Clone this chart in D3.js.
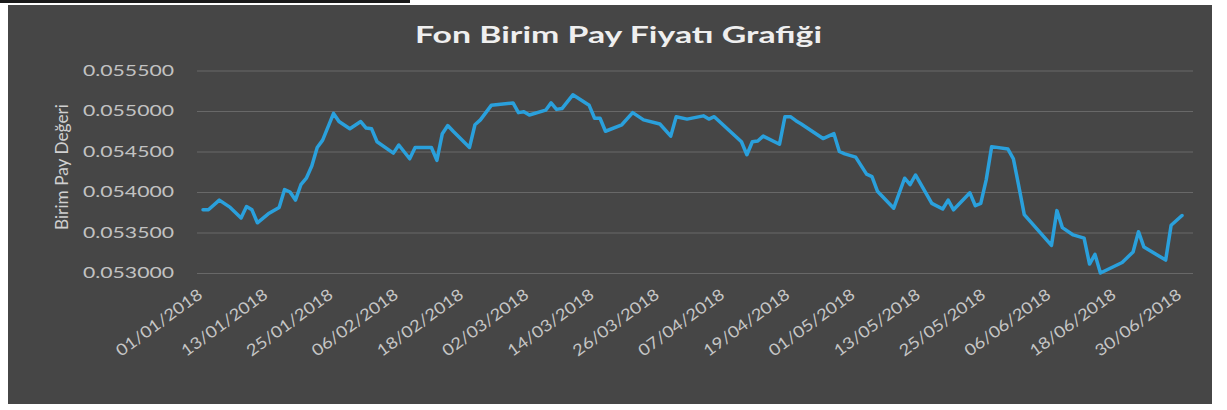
<!DOCTYPE html>
<html>
<head>
<meta charset="utf-8">
<script src="https://cdn.jsdelivr.net/npm/d3@7"></script>
<style>
  body { margin: 0; background: #fff; }
  svg { display: block; }
</style>
</head>
<body>
<div id="chart"></div>
<script>
// daily unit values
var dates = [
  "2018-01-01","2018-01-02","2018-01-04","2018-01-06","2018-01-08","2018-01-09","2018-01-10","2018-01-11",
  "2018-01-13","2018-01-15","2018-01-16","2018-01-17","2018-01-18","2018-01-19","2018-01-20","2018-01-21",
  "2018-01-22","2018-01-23","2018-01-25","2018-01-26","2018-01-28","2018-01-30","2018-01-31","2018-02-01",
  "2018-02-02","2018-02-05","2018-02-06","2018-02-08","2018-02-09","2018-02-12","2018-02-13","2018-02-14",
  "2018-02-15","2018-02-16","2018-02-19","2018-02-20","2018-02-21","2018-02-23","2018-02-27","2018-02-28",
  "2018-03-01","2018-03-02","2018-03-05","2018-03-06","2018-03-07","2018-03-08","2018-03-10","2018-03-13",
  "2018-03-14","2018-03-15","2018-03-16","2018-03-19","2018-03-21","2018-03-23","2018-03-26","2018-03-28",
  "2018-03-29","2018-03-31","2018-04-03","2018-04-04","2018-04-05","2018-04-10","2018-04-11","2018-04-12",
  "2018-04-13","2018-04-14","2018-04-17","2018-04-18","2018-04-19","2018-04-20","2018-04-21","2018-04-25",
  "2018-04-27","2018-04-28","2018-04-29","2018-05-01","2018-05-03","2018-05-04","2018-05-05","2018-05-08",
  "2018-05-10","2018-05-11","2018-05-12","2018-05-15","2018-05-17","2018-05-18","2018-05-19","2018-05-22",
  "2018-05-23","2018-05-24","2018-05-25","2018-05-26","2018-05-29","2018-05-30","2018-05-31","2018-06-01",
  "2018-06-06","2018-06-07","2018-06-08","2018-06-10","2018-06-12","2018-06-13","2018-06-14","2018-06-15",
  "2018-06-19","2018-06-21","2018-06-22","2018-06-23","2018-06-27","2018-06-28","2018-06-30"
];
var values = [
  0.05378,0.05378,0.05390,0.05381,0.05368,0.05382,0.05378,0.05362,
  0.05373,0.05381,0.05403,0.05400,0.05390,0.05409,0.05417,0.05432,
  0.05455,0.05464,0.05497,0.05487,0.05478,0.05487,0.05479,0.05478,
  0.05462,0.05448,0.05458,0.05441,0.05455,0.05455,0.05439,0.05472,
  0.05482,0.05475,0.05455,0.05483,0.05489,0.05507,0.05510,0.05498,
  0.05499,0.05495,0.05501,0.05510,0.05502,0.05503,0.05520,0.05507,
  0.05491,0.05491,0.05475,0.05483,0.05498,0.05489,0.05484,0.05469,
  0.05493,0.05490,0.05494,0.05490,0.05493,0.05462,0.05446,0.05462,
  0.05463,0.05469,0.05459,0.05493,0.05493,0.05488,0.05484,0.05466,
  0.05472,0.05450,0.05447,0.05443,0.05422,0.05419,0.05401,0.05380,
  0.05417,0.05409,0.05421,0.05386,0.05379,0.05390,0.05378,0.05399,
  0.05383,0.05386,0.05415,0.05456,0.05453,0.05441,0.05407,0.05372,
  0.05334,0.05377,0.05356,0.05347,0.05343,0.05311,0.05323,0.05300,
  0.05313,0.05326,0.05351,0.05332,0.05316,0.05359,0.05371
];
var xTickLabels = [
  "01/01/2018","13/01/2018","25/01/2018","06/02/2018","18/02/2018","02/03/2018",
  "14/03/2018","26/03/2018","07/04/2018","19/04/2018","01/05/2018","13/05/2018",
  "25/05/2018","06/06/2018","18/06/2018","30/06/2018"
];
var yTicks = [0.0530, 0.0535, 0.0540, 0.0545, 0.0550, 0.0555];

var W = 1227, H = 410;
var parseISO = d3.timeParse("%Y-%m-%d");
var parseTick = d3.timeParse("%d/%m/%Y");
var data = dates.map(function(d, i) { return {date: parseISO(d), value: values[i]}; });

var svg = d3.select("#chart").append("svg")
    .attr("width", W)
    .attr("height", H);

// chart panel
svg.append("rect").attr("x", 0).attr("y", 0).attr("width", 410).attr("height", 3).attr("fill", "#1a1a1a");
svg.append("rect")
    .attr("x", 8).attr("y", 5)
    .attr("width", 1204).attr("height", 399)
    .attr("fill", "#464646");

var gridLeft = 197, gridRight = 1193;

var x = d3.scaleTime()
    .domain([parseTick(xTickLabels[0]), parseTick(xTickLabels[xTickLabels.length - 1])])
    .range([203, 1182]);

var y = d3.scaleLinear()
    .domain([0.0530, 0.0555])
    .range([273, 70.5]);

// Y axis + gridlines
var yAxis = svg.append("g")
    .attr("transform", "translate(" + gridLeft + ",0)")
    .call(d3.axisLeft(y)
        .tickValues(yTicks)
        .tickFormat(d3.format(".6f"))
        .tickSize(-(gridRight - gridLeft))
        .tickPadding(23));
yAxis.select(".domain").remove();
yAxis.selectAll(".tick line")
    .attr("stroke", "#686868")
    .attr("stroke-width", 1);
yAxis.selectAll(".tick text")
    .attr("fill", "#c2c2c2")
    .style("font-family", "Lato, 'Open Sans', sans-serif")
    .style("font-size", "15px")
    .attr("textLength", 91)
    .attr("lengthAdjust", "spacingAndGlyphs");

// X axis labels
var xAxis = svg.append("g")
    .attr("transform", "translate(0,297)")
    .call(d3.axisBottom(x)
        .tickValues(xTickLabels.map(parseTick))
        .tickFormat(d3.timeFormat("%d/%m/%Y"))
        .tickSize(0));
xAxis.select(".domain").remove();
xAxis.selectAll(".tick text")
    .attr("x", 0).attr("y", 0).attr("dy", 0)
    .attr("transform", "rotate(-36)")
    .style("text-anchor", "end")
    .attr("fill", "#c6c6c6")
    .style("font-family", "Lato, 'Open Sans', sans-serif")
    .style("font-size", "16px")
    .attr("textLength", 102)
    .attr("lengthAdjust", "spacingAndGlyphs");

// line
var line = d3.line()
    .x(function(d) { return x(d.date); })
    .y(function(d) { return y(d.value); });

svg.append("path")
    .datum(data)
    .attr("fill", "none")
    .attr("stroke", "#2aa0dc")
    .attr("stroke-width", 3.5)
    .attr("stroke-linejoin", "round")
    .attr("stroke-linecap", "round")
    .attr("d", line);

// title
svg.append("text")
    .attr("x", 618.5)
    .attr("y", 43)
    .attr("text-anchor", "middle")
    .attr("fill", "#efefef")
    .style("font-family", "Lato, 'Open Sans', sans-serif")
    .style("font-weight", "bold")
    .style("font-size", "22px")
    .attr("textLength", 407)
    .attr("lengthAdjust", "spacingAndGlyphs")
    .text("Fon Birim Pay Fiyatı Grafiği");

// y axis title
svg.append("text")
    .attr("transform", "translate(68,167) rotate(-90)")
    .attr("text-anchor", "middle")
    .attr("fill", "#d0d0d0")
    .style("font-family", "Lato, 'Open Sans', sans-serif")
    .style("font-size", "17px")
    .attr("textLength", 126)
    .attr("lengthAdjust", "spacingAndGlyphs")
    .text("Birim Pay Değeri");
</script>
</body>
</html>
